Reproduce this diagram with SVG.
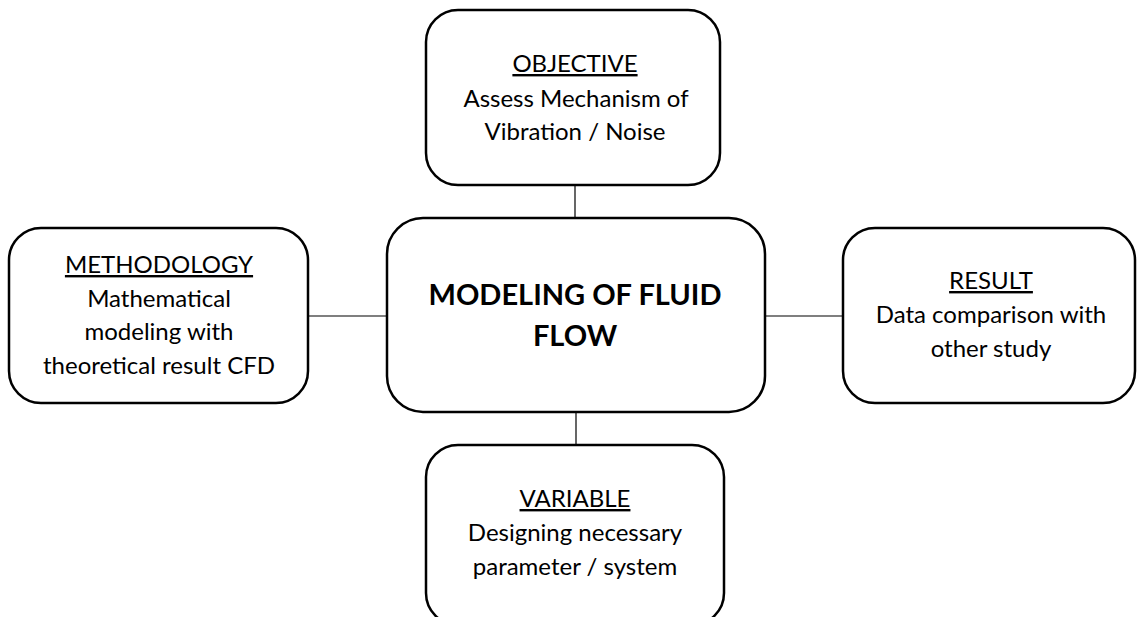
<svg xmlns="http://www.w3.org/2000/svg" width="1137" height="617" viewBox="0 0 1137 617">
<style>
.box{fill:#fff;stroke:#000;stroke-width:2.5}
.conn line{stroke:#000;stroke-width:1.2}
text{font-family:Lato,"Open Sans","Liberation Sans",sans-serif;font-size:24px;fill:#000;text-anchor:middle}
.hd{text-decoration:underline}
.main{font-weight:bold;font-size:29px}
</style>
<rect width="1137" height="617" fill="#fff"/>
<g class="conn">
<line x1="575" y1="185" x2="575" y2="218"/>
<line x1="576" y1="412" x2="576" y2="445"/>
<line x1="308" y1="316" x2="387" y2="316"/>
<line x1="765" y1="316" x2="843" y2="316"/>
</g>
<g id="objective">
<rect class="box" x="426" y="10" width="294" height="175" rx="32"/>
<text x="575" y="72" class="hd">OBJECTIVE</text>
<text x="576" y="107">Assess Mechanism of</text>
<text x="575" y="140">Vibration / Noise</text>
</g>
<g id="center">
<rect class="box" x="387" y="218" width="378" height="194" rx="36"/>
<text x="575" y="305" class="main">MODELING OF FLUID</text>
<text x="575" y="346" class="main">FLOW</text>
</g>
<g id="methodology">
<rect class="box" x="9" y="228" width="299" height="175" rx="32"/>
<text x="159" y="273" class="hd">METHODOLOGY</text>
<text x="159" y="307">Mathematical</text>
<text x="159" y="340">modeling with</text>
<text x="159" y="374">theoretical result CFD</text>
</g>
<g id="result">
<rect class="box" x="843" y="228" width="292" height="175" rx="32"/>
<text x="991" y="289" class="hd">RESULT</text>
<text x="991" y="323">Data comparison with</text>
<text x="991" y="357">other study</text>
</g>
<g id="variable">
<rect class="box" x="426" y="445" width="298" height="180" rx="32"/>
<text x="575" y="507" class="hd">VARIABLE</text>
<text x="575" y="541">Designing necessary</text>
<text x="575" y="575">parameter / system</text>
</g>
</svg>
